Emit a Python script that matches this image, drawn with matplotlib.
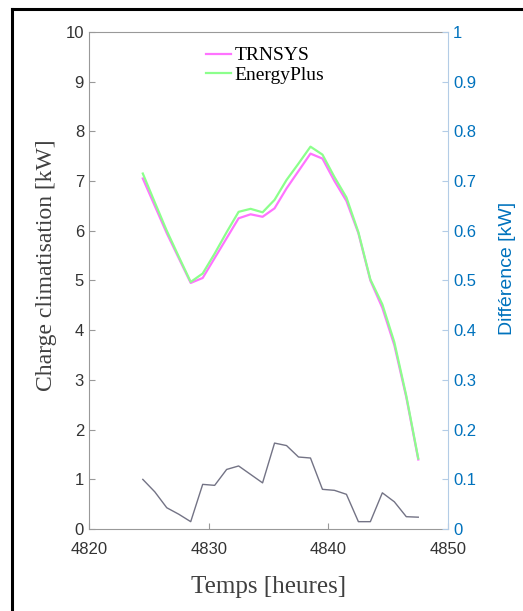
import matplotlib.pyplot as plt
from matplotlib.lines import Line2D
import numpy as np

# * Charge climatisation : TRNSYS vs EnergyPlus

hours = np.arange(4824.5, 4848.0, 1.0)

trnsys = [7.05, 6.50, 5.95, 5.45, 4.95, 5.05, 5.45, 5.85, 6.25, 6.33,
          6.28, 6.45, 6.85, 7.20, 7.55, 7.45, 7.00, 6.60, 5.95, 5.00,
          4.45, 3.70, 2.65, 1.40]
energyplus = [7.15, 6.57, 6.00, 5.48, 4.97, 5.14, 5.54, 5.97, 6.38, 6.44,
              6.37, 6.62, 7.02, 7.35, 7.69, 7.53, 7.08, 6.67, 5.97, 5.02,
              4.52, 3.76, 2.68, 1.42]
difference = [0.100, 0.075, 0.043, 0.030, 0.015, 0.090, 0.088, 0.120,
              0.127, 0.110, 0.093, 0.173, 0.168, 0.145, 0.143, 0.080,
              0.078, 0.070, 0.015, 0.015, 0.073, 0.055, 0.025, 0.024]

blue = (0.0, 0.447, 0.741)
grey = (0.6, 0.6, 0.6)
dark = (0.25, 0.25, 0.25)

fig = plt.figure(figsize=(5.23, 6.11), dpi=100)
ax = fig.add_axes([0.170, 0.134, 0.687, 0.814])

ax.plot(hours, trnsys, color=(1.0, 0.45, 1.0), lw=1.6, label='TRNSYS')
ax.plot(hours, energyplus, color=(0.55, 1.0, 0.55), lw=1.6, label='EnergyPlus')

ax.set_xlim(4820, 4850)
ax.set_ylim(0, 10)
ax.set_xticks([4820, 4830, 4840, 4850])
ax.set_yticks(range(0, 11))
ax.tick_params(direction='in', length=4, colors=grey, labelcolor=(0.2, 0.2, 0.2),
               labelsize=12, top=False, right=False)
ax.tick_params(axis='x', pad=9)
for lab in ax.get_xticklabels() + ax.get_yticklabels():
    lab.set_family('Liberation Sans')
for s in ['left', 'bottom', 'top']:
    ax.spines[s].set_color(grey)
ax.spines['right'].set_visible(False)

ax.set_xlabel('Temps [heures]', family='Liberation Serif', fontsize=18,
              color=dark)
ax.xaxis.set_label_coords(0.5, -0.095)
ax.set_ylabel('Charge climatisation [kW]', family='Liberation Serif', fontsize=17,
              color=dark)
ax.yaxis.set_label_coords(-0.09, 0.53)

ax.legend(loc='upper center', bbox_to_anchor=(0.49, 1.005), frameon=False,
          handlelength=1.3, handletextpad=0.2, labelspacing=0.1,
          prop={'family': 'Liberation Serif', 'size': 14})

ax2 = ax.twinx()
ax2.plot(hours, difference, color=(0.45, 0.45, 0.52), lw=1.0)
ax2.set_ylim(0, 1)
ax2.set_yticks(np.arange(0, 1.01, 0.1))
ax2.set_yticklabels(['0', '0.1', '0.2', '0.3', '0.4', '0.5', '0.6', '0.7', '0.8', '0.9', '1'])
ax2.tick_params(direction='in', length=4, colors=(0.7, 0.8, 0.9), labelcolor=blue,
                labelsize=12)
for lab in ax2.get_yticklabels():
    lab.set_family('Liberation Sans')
ax2.spines['right'].set_color((0.7, 0.8, 0.9))
for s in ['left', 'bottom', 'top']:
    ax2.spines[s].set_visible(False)
ax2.set_ylabel('Différence [kW]', family='Liberation Sans', fontsize=14,
               color=blue)
ax2.yaxis.set_label_coords(1.14, 0.525)

# black frame (left and top)
fig.add_artist(Line2D([12 / 523, 12 / 523], [0, 1 - 9 / 611], color='black', lw=2.2,
                      transform=fig.transFigure))
fig.add_artist(Line2D([12 / 523, 1], [1 - 9 / 611, 1 - 9 / 611], color='black', lw=2.2,
                      transform=fig.transFigure))

fig.savefig('out.png', dpi=100)
